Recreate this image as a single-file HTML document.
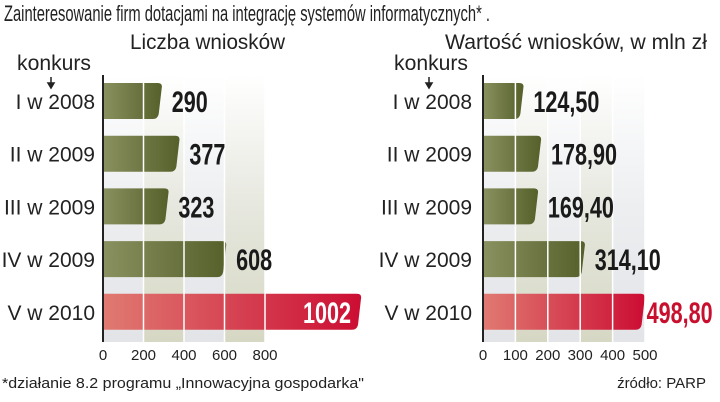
<!DOCTYPE html>
<html><head><meta charset="utf-8">
<style>
html,body{margin:0;padding:0;background:#fff;width:720px;height:402px;overflow:hidden}
svg{display:block}
.t{font-family:"Liberation Sans",sans-serif;fill:#222}
.c{font-family:"Liberation Sans",sans-serif;fill:#222}
.v{font-family:"Liberation Sans",sans-serif;font-weight:bold}
</style></head>
<body>
<svg id="chart" width="720" height="402" viewBox="0 0 720 402">
<defs>
<linearGradient id="gOlive" x1="0" x2="1" y1="0" y2="0"><stop offset="0" stop-color="#8a9160"/><stop offset="1" stop-color="#55602a"/></linearGradient>
<linearGradient id="gRed" x1="0" x2="1" y1="0" y2="0"><stop offset="0" stop-color="#e07a72"/><stop offset="1" stop-color="#cc0d33"/></linearGradient>
<linearGradient id="gBg" x1="0" x2="0" y1="0" y2="1"><stop offset="0" stop-color="#ffffff"/><stop offset="0.5" stop-color="#e6e7de"/><stop offset="1" stop-color="#d6d8c4"/></linearGradient>
<linearGradient id="gBg2" x1="0" x2="0" y1="0" y2="1"><stop offset="0" stop-color="#ffffff"/><stop offset="0.5" stop-color="#eceef0"/><stop offset="1" stop-color="#e2e4e8"/></linearGradient>
</defs>
<text class="t" x="4" y="21" font-size="22" textLength="486" lengthAdjust="spacingAndGlyphs">Zainteresowanie firm dotacjami na integrację systemów informatycznych*  .</text>
<text class="t" x="130" y="49" font-size="21" textLength="155" lengthAdjust="spacingAndGlyphs">Liczba wniosków</text>
<text class="t" x="445" y="49" font-size="21" textLength="262" lengthAdjust="spacingAndGlyphs">Wartość wniosków, w mln zł</text>
<g id="left"></g>
<g id="right"></g>
<text class="c" x="2" y="388" font-size="15" textLength="362" lengthAdjust="spacingAndGlyphs">*działanie 8.2 programu „Innowacyjna gospodarka"</text>
<text class="c" x="706" y="388" font-size="15" text-anchor="end">źródło: PARP</text>
</svg>
<script>
const categories = ["I w 2008","II w 2009","III w 2009","IV w 2009","V w 2010"];
const countValues = [290,377,323,608,1002];
const countLabels = ["290","377","323","608","1002"];
const countTicks = [0,200,400,600,800];
const amountValues = [124.5,178.9,169.4,314.1,498.8];
const amountLabels = ["124,50","178,90","169,40","314,10","498,80"];
const amountTicks = [0,100,200,300,400,500];

const NS="http://www.w3.org/2000/svg";
function mk(parent,tag,attrs,text){const e=document.createElementNS(NS,tag);for(const k in attrs)e.setAttribute(k,attrs[k]);if(text!==undefined)e.textContent=text;parent.appendChild(e);return e;}

function panel(g,cfg){
  const x=v=>cfg.x0+(v-cfg.ticks[0])*(cfg.xEnd-cfg.x0)/(cfg.ticks[cfg.ticks.length-1]-cfg.ticks[0]);
  const top=75,bottom=342,rowH=52.7,barH=36,firstY=83;
  for(let i=0;i<cfg.ticks.length-1;i++){
    const r=mk(g,'rect',{x:x(cfg.ticks[i]),y:top,width:x(cfg.ticks[i+1])-x(cfg.ticks[i]),height:bottom-top,fill:i%2?'url(#gBg)':'url(#gBg2)'});
    
    
  }
  const k=mk(g,'text',{class:'t',x:cfg.labelX-78,y:70,'font-size':21,textLength:74,lengthAdjust:'spacingAndGlyphs'},'konkurs');
  
  
  const ar=mk(g,'path',{d:`M${cfg.arrowX} 77 L${cfg.arrowX} 86 M${cfg.arrowX-3} 83 L${cfg.arrowX} 88 L${cfg.arrowX+3} 83 Z`,stroke:'#222','stroke-width':1.5,fill:'#222'});
  
  
  const labelsLayer=[];
  categories.forEach((c,i)=>{
    const y=firstY+i*rowH;
    const v=cfg.values[i];
    const last=i===categories.length-1;
    let xe=x(v);
    if(v>cfg.ticks[cfg.ticks.length-1]&&cfg.overflowX) xe=Math.max(xe,cfg.overflowX);
    const w=xe-cfg.x0;
    const p=mk(g,'path',{d:`M${cfg.x0} ${y} H${cfg.x0+w-4} Q${cfg.x0+w+1} ${y} ${cfg.x0+w} ${y+5} L${cfg.x0+w-3} ${y+barH-5} Q${cfg.x0+w-4} ${y+barH} ${cfg.x0+w-9} ${y+barH} H${cfg.x0} Z`,fill:last?'url(#gRed)':'url(#gOlive)'});
    
    
    const lab=mk(g,'text',{class:'c',x:cfg.labelX,y:y+barH/2+8,'font-size':21,'text-anchor':'end'},c);
    
    
    labelsLayer.push({i,y,xe,last});
  });
  cfg.ticks.slice(1).forEach(t=>{
    const l=mk(g,'line',{x1:x(t),x2:x(t),y1:top,y2:bottom,stroke:'#fff','stroke-width':1.5});
    
    
  });
  labelsLayer.forEach(({i,y,xe,last})=>{
    const inside=last&&cfg.inside;
    const tx=inside?xe-10:xe+(last?2:10);
    const gg=mk(g,'g',{transform:`translate(${tx},${y+barH/2+11}) scale(0.72,1)`});
    const vt=mk(gg,'text',{class:'v',x:0,y:0,'font-size':30,'text-anchor':inside?'end':'start',fill:inside?'#fff':(last?'#c8102e':'#1a1a1a')},cfg.labels[i]);
    
    
  });
  cfg.ticks.forEach(t=>{
    const tt=mk(g,'text',{class:'c',x:x(t),y:360,'font-size':15,'text-anchor':'middle',fill:'#444'},String(t));
    
    
  });
  const ax=mk(g,'line',{x1:cfg.x0,x2:cfg.x0,y1:top,y2:bottom,stroke:'#222','stroke-width':2});
  
  
}
panel(document.getElementById('left'),{x0:103,xEnd:265,ticks:countTicks,values:countValues,labels:countLabels,labelX:95,arrowX:51,overflowX:361,inside:true});
panel(document.getElementById('right'),{x0:483,xEnd:645,ticks:amountTicks,values:amountValues,labels:amountLabels,labelX:472,arrowX:429,overflowX:null,inside:false});
</script>
</body></html>
